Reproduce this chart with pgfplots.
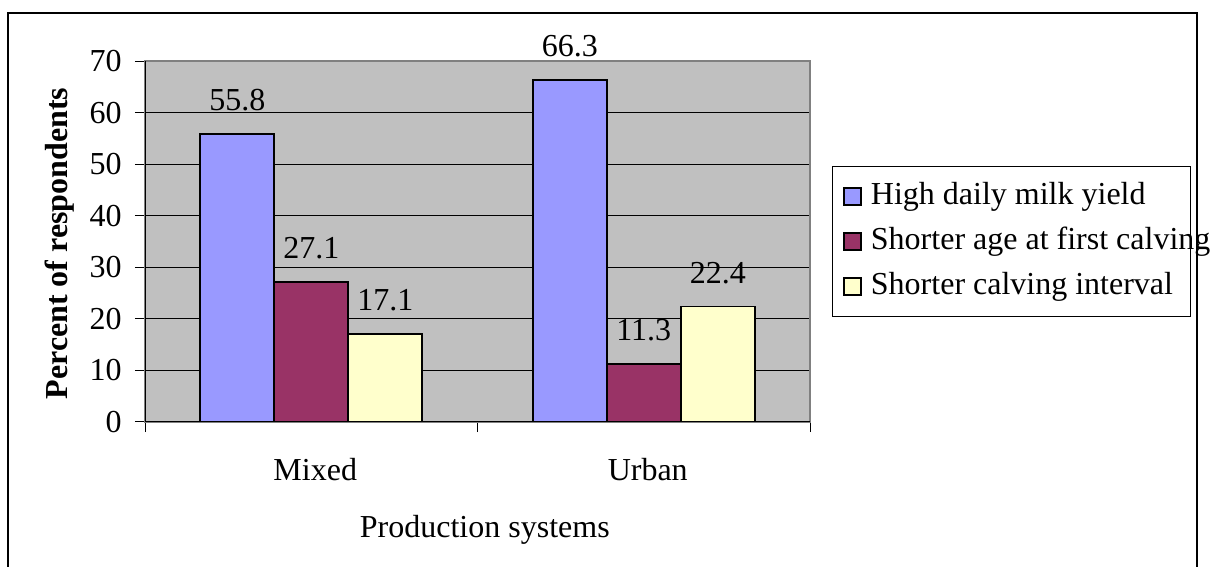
\documentclass[border=0pt]{standalone}
\usepackage{pgfplots}
\pgfplotsset{compat=1.18}
\usepackage{fontspec}
\setmainfont{Liberation Serif}
\definecolor{cblue}{HTML}{9999FF}
\definecolor{cmaroon}{HTML}{993366}
\definecolor{cyellow}{HTML}{FFFFCC}
\definecolor{cgray}{HTML}{C0C0C0}
\pgfplotsset{sqlegend/.style={legend image code/.code={\draw[##1] (0pt,-4.25pt) rectangle (8.5pt,4.25pt);}}}
\begin{document}
\fontsize{16}{19}\selectfont
\begin{tikzpicture}[font=\fontsize{16}{19}\selectfont]
\useasboundingbox (0,0) rectangle (612.5pt,283.5pt);
\begin{axis}[
  at={(72.5pt,72.5pt)}, anchor=south west,
  scale only axis, width=332.5pt, height=180.5pt,
  ybar=0pt, bar width=37pt,
  xmin=-0.5, xmax=1.5, ymin=0, ymax=70,
  ytick={0,10,...,70},
  xtick={-0.5,0.5,1.5}, xticklabels={},
  extra x ticks={0,1}, extra x tick labels={Mixed,Urban},
  extra x tick style={major tick length=0pt, xmajorgrids=false},
  xticklabel style={anchor=base, inner sep=0pt, yshift=-29pt, xshift=2pt},
  yticklabel style={anchor=east, inner sep=0pt, xshift=-6.5pt},
  tick align=outside, major tick length=5pt,
  xtick pos=bottom, ytick pos=left,
  tick style={black, line width=0.5pt},
  ymajorgrids, major grid style={black, line width=0.5pt},
  axis background/.style={fill=cgray},
  axis line style={draw=gray, line width=0.6pt},
  /pgf/number format/assume math mode=true,
  ylabel={\bfseries Percent of respondents},
  ylabel style={at={(axis description cs:-0.116,0.4945)}, anchor=base, rotate=0},
  xlabel={Production systems},
  xlabel style={at={(axis description cs:0.511,-0.3186)}, anchor=base},
  nodes near coords,
  every node near coord/.append style={anchor=south, inner sep=0pt, yshift=11pt, text=black},
  legend style={at={(rel axis cs:1.033,0.709)}, anchor=north west, draw=black, fill=white,
    inner sep=5.5pt, row sep=3.5pt,
    nodes={inner sep=2pt, text height=11.5pt, text depth=3.5pt}},
  legend cell align=left,
]
\addplot[fill=cblue, draw=black, line width=0.8pt, sqlegend]
  coordinates {(0,55.8) (1,66.3)};
\addlegendentry{\makebox[154.5pt][l]{\hspace{2.5pt}High daily milk yield}}
\addplot[fill=cmaroon, draw=black, line width=0.8pt, sqlegend]
  coordinates {(0,27.1) (1,11.3)};
\addlegendentry{\makebox[154.5pt][l]{\hspace{2.5pt}Shorter age at first calving}}
\addplot[fill=cyellow, draw=black, line width=0.8pt, sqlegend]
  coordinates {(0,17.1) (1,22.4)};
\addlegendentry{\makebox[154.5pt][l]{\hspace{2.5pt}Shorter calving interval}}
\draw[black, line width=0.6pt] (rel axis cs:0,1) -- (rel axis cs:0,0) -- (rel axis cs:1,0);
\end{axis}
\draw[line width=1.1pt] (4pt,-5pt) -- (4pt,277pt) -- (598.5pt,277pt) -- (598.5pt,-5pt);
\end{tikzpicture}
\end{document}
